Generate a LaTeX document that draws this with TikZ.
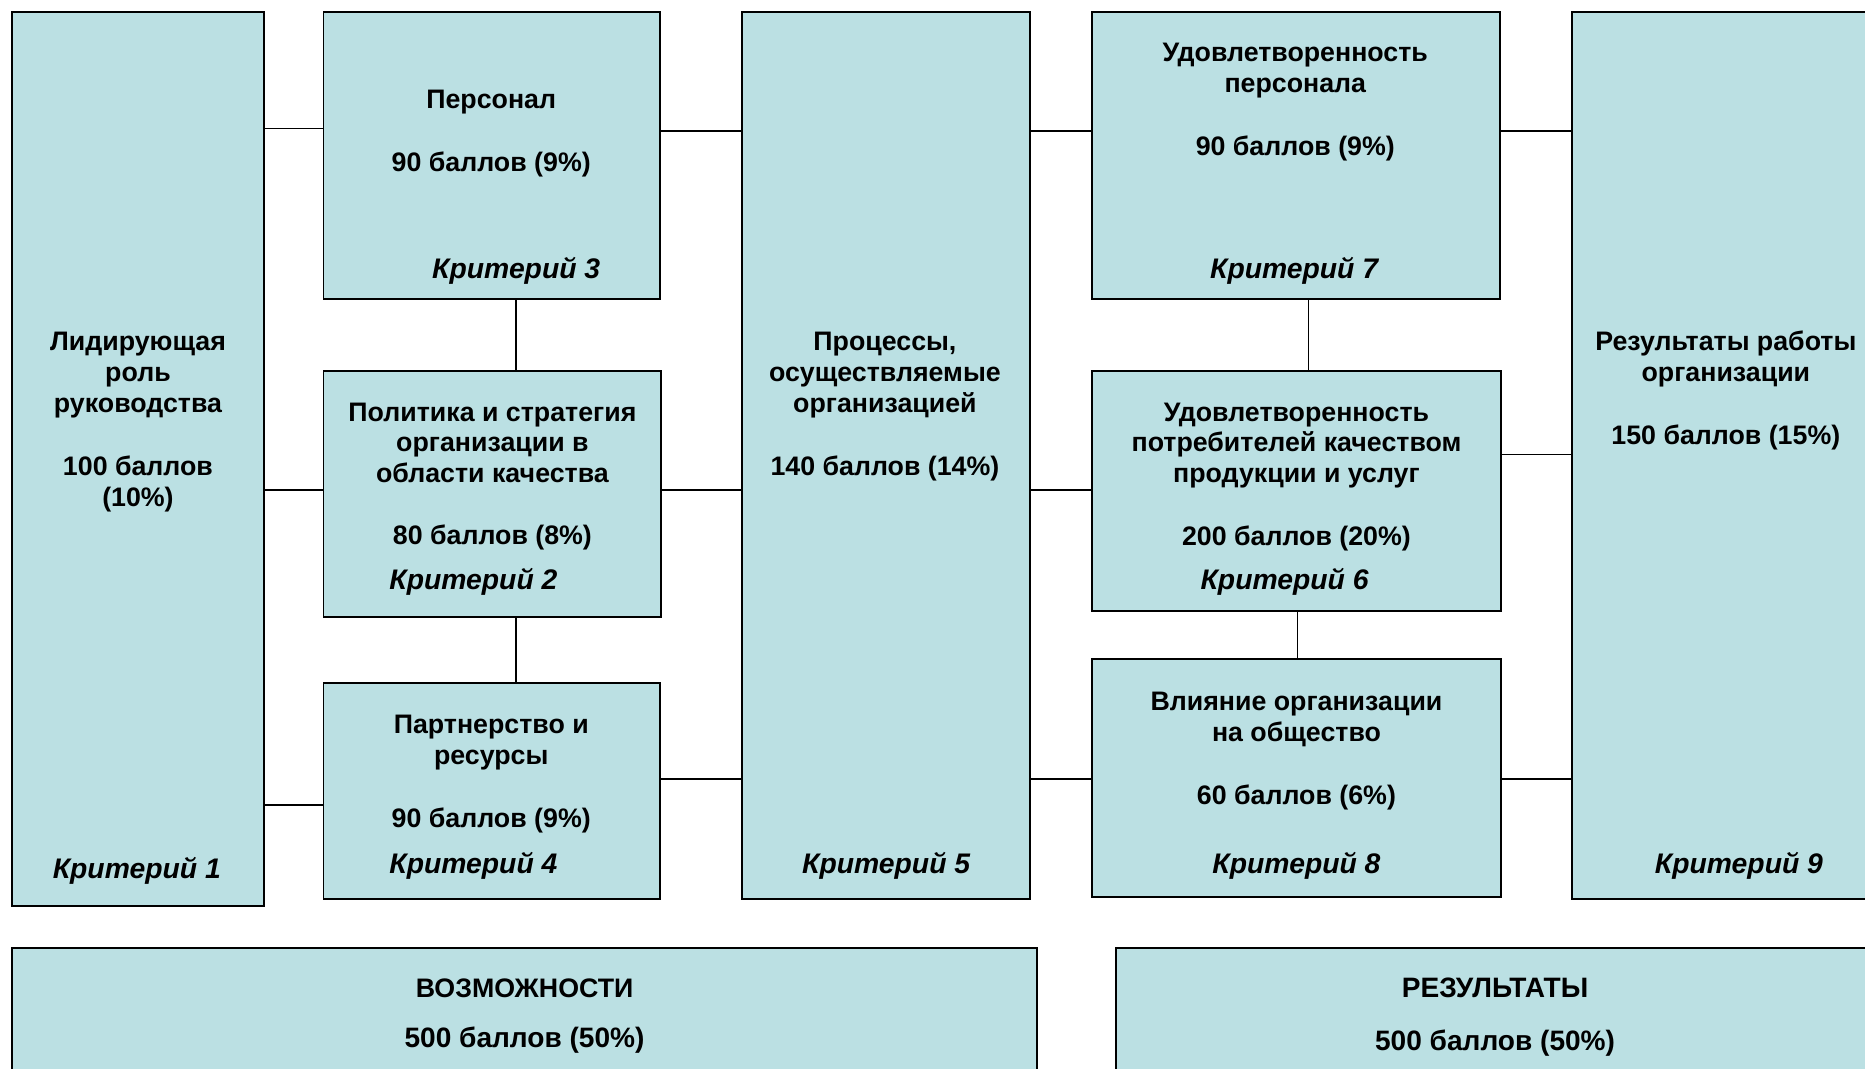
\documentclass[tikz,border=0pt]{standalone}
\usepackage{fontspec}
\setmainfont{Liberation Sans}
\definecolor{boxfill}{RGB}{187,224,227}
\begin{document}
\begin{tikzpicture}[x=1pt,y=-1pt,
  box/.style={draw=black, line width=1.6pt, fill=boxfill, anchor=north west, inner sep=0pt, outer sep=0pt},
  conn/.style={draw=black, line width=1.3pt},
  txt/.style={anchor=base, inner sep=0pt, font=\fontsize{22.5}{26}\selectfont\bfseries},
  bigtxt/.style={anchor=base, inner sep=0pt, font=\fontsize{23.6}{26}\selectfont\bfseries},
  crit/.style={anchor=base, inner sep=0pt, font=\fontsize{23.8}{26}\selectfont\bfseries\itshape}]
\clip (0,0) rectangle (1568,898);
\fill[white] (0,0) rectangle (1568,898);
% boxes
\node[box, minimum width=212, minimum height=752] (b1) at (10,10) {};
\node[box, minimum width=283, minimum height=241] (b3) at (272,10) {};
\node[box, minimum width=284, minimum height=207] (b2) at (272,312) {};
\node[box, minimum width=283, minimum height=182] (b4) at (272,574) {};
\node[box, minimum width=242, minimum height=746] (b5) at (624,10) {};
\node[box, minimum width=343, minimum height=241] (b7) at (918,10) {};
\node[box, minimum width=344, minimum height=202] (b6) at (918,312) {};
\node[box, minimum width=344, minimum height=200] (b8) at (918,554) {};
\node[box, minimum width=300, minimum height=746] (b9) at (1322,10) {};
\node[box, minimum width=862, minimum height=150] (bv) at (10,797) {};
\node[box, minimum width=700, minimum height=150] (br) at (938,797) {};
% connectors
\draw[conn] (b1.east |- 0,108) -- (b3.west |- 0,108);
\draw[conn] (b1.east |- 0,412) -- (b2.west |- 0,412);
\draw[conn] (b1.east |- 0,677) -- (b4.west |- 0,677);
\draw[conn] (b3.east |- 0,110) -- (b5.west |- 0,110);
\draw[conn] (b2.east |- 0,412) -- (b5.west |- 0,412);
\draw[conn] (b4.east |- 0,655) -- (b5.west |- 0,655);
\draw[conn] (b5.east |- 0,110) -- (b7.west |- 0,110);
\draw[conn] (b5.east |- 0,412) -- (b6.west |- 0,412);
\draw[conn] (b5.east |- 0,655) -- (b8.west |- 0,655);
\draw[conn] (b7.east |- 0,110) -- (b9.west |- 0,110);
\draw[conn] (b6.east |- 0,382) -- (b9.west |- 0,382);
\draw[conn] (b8.east |- 0,655) -- (b9.west |- 0,655);
\draw[conn] (b3.south -| 434,0) -- (b2.north -| 434,0);
\draw[conn] (b2.south -| 434,0) -- (b4.north -| 434,0);
\draw[conn] (b7.south -| 1100,0) -- (b6.north -| 1100,0);
\draw[conn] (b6.south -| 1091,0) -- (b8.north -| 1091,0);
% box 1
\node[txt] (t1a) at (116,295) {Лидирующая};
\node[txt] (t1b) at (116,321) {роль};
\node[txt] (t1c) at (116,347) {руководства};
\node[txt] (t1d) at (116,400) {100 баллов};
\node[txt] (t1e) at (116,426) {(10\%)};
\node[crit] (c1) at (115,739) {Критерий 1};
% box 3
\node[txt] (t3a) at (413,91) {Персонал};
\node[txt] (t3b) at (413,144) {90 баллов (9\%)};
\node[crit] (c3) at (434,234) {Критерий 3};
% box 2
\node[txt] (t2a) at (414,354) {Политика и стратегия};
\node[txt] (t2b) at (414,380) {организации в};
\node[txt] (t2c) at (414,406) {области качества};
\node[txt] (t2d) at (414,458) {80 баллов (8\%)};
\node[crit] (c2) at (398,496) {Критерий 2};
% box 4
\node[txt] (t4a) at (413,617) {Партнерство и};
\node[txt] (t4b) at (413,643) {ресурсы};
\node[txt] (t4c) at (413,696) {90 баллов (9\%)};
\node[crit] (c4) at (398,734) {Критерий 4};
% box 5
\node[txt] (t5a) at (744,295) {Процессы,};
\node[txt] (t5b) at (744,321) {осуществляемые};
\node[txt] (t5c) at (744,347) {организацией};
\node[txt] (t5d) at (744,400) {140 баллов (14\%)};
\node[crit] (c5) at (745,734) {Критерий 5};
% box 7
\node[txt] (t7a) at (1089,52) {Удовлетворенность};
\node[txt] (t7b) at (1089,78) {персонала};
\node[txt] (t7c) at (1089,131) {90 баллов (9\%)};
\node[crit] (c7) at (1088,234) {Критерий 7};
% box 6
\node[txt] (t6a) at (1090,354) {Удовлетворенность};
\node[txt] (t6b) at (1090,380) {потребителей качеством};
\node[txt] (t6c) at (1090,406) {продукции и услуг};
\node[txt] (t6d) at (1090,459) {200 баллов (20\%)};
\node[crit] (c6) at (1080,496) {Критерий 6};
% box 8
\node[txt] (t8a) at (1090,597) {Влияние организации};
\node[txt] (t8b) at (1090,623) {на общество};
\node[txt] (t8c) at (1090,676) {60 баллов (6\%)};
\node[crit] (c8) at (1090,734) {Критерий 8};
% box 9
\node[txt] (t9a) at (1451,295) {Результаты работы};
\node[txt] (t9b) at (1451,321) {организации};
\node[txt] (t9c) at (1451,374) {150 баллов (15\%)};
\node[crit] (c9) at (1462,734) {Критерий 9};
% bottom
\node[txt] (tva) at (441,839) {ВОЗМОЖНОСТИ};
\node[bigtxt] (tvb) at (441,881) {500 баллов (50\%)};
\node[bigtxt] (tra) at (1257,839) {РЕЗУЛЬТАТЫ};
\node[bigtxt] (trb) at (1257,883) {500 баллов (50\%)};
\end{tikzpicture}
\end{document}
